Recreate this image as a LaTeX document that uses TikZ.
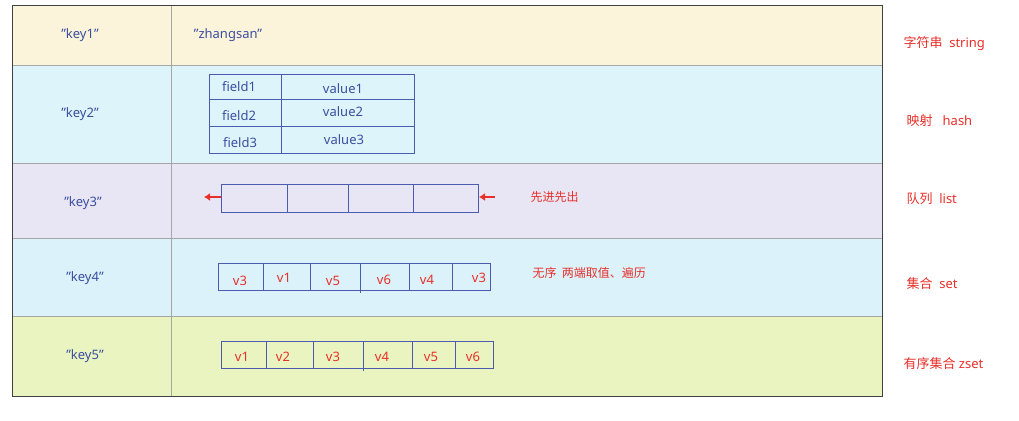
\documentclass[tikz,border=0pt]{standalone}
\usepackage{fontspec}
\setmainfont{Noto Sans}
\newfontfamily\cjk{Noto Sans CJK SC}
\usetikzlibrary{arrows.meta}
\begin{document}
\begin{tikzpicture}[x=1pt,y=-1pt,
  key/.style={text=keyc,font=\fontsize{13}{15}\selectfont},
  red/.style={text=redc,font=\fontsize{13}{15}\selectfont},
  cell/.style={draw=cellc,line width=0.8pt}]
\definecolor{keyc}{HTML}{3C4FA0}
\definecolor{redc}{HTML}{E8302A}
\definecolor{cellc}{HTML}{4A5BB0}
\definecolor{r1}{HTML}{FBF3DA}
\definecolor{r2}{HTML}{DDF4FB}
\definecolor{r3}{HTML}{E8E6F4}
\definecolor{r4}{HTML}{DCF2FB}
\definecolor{r5}{HTML}{EAF4C0}
\useasboundingbox (0,0) rectangle (1019,420);
\fill[white] (0,0) rectangle (1019,420);
\fill[r1] (12,5) rectangle (882,65);
\fill[r2] (12,65) rectangle (882,163);
\fill[r3] (12,163) rectangle (882,238);
\fill[r4] (12,238) rectangle (882,316);
\fill[r5] (12,316) rectangle (882,396);
\draw[gray!70,line width=0.8pt] (12,65)--(882,65) (12,163)--(882,163) (12,238)--(882,238) (12,316)--(882,316) (171,5)--(171,396);
\draw[black!75,line width=0.9pt] (12,5) rectangle (882,396);
% keys
\node[key] (k1) at (80,35) {"key1"};
\node[key] (k2) at (80,114) {"key2"};
\node[key] (k3) at (83,203) {"key3"};
\node[key] (k4) at (85,278) {"key4"};
\node[key] (k5) at (85,356) {"key5"};
\node[key] (v1) at (228,35) {"zhangsan"};
% hash
\draw[cell] (209,74) rectangle (414,153) (281,74)--(281,153) (209,99)--(414,99) (209,126)--(414,126);
\node[key] (f1) at (239,87) {field1};
\node[key] (f2) at (239,116) {field2};
\node[key] (f3) at (240,143) {field3};
\node[key] (h1) at (343,89) {value1};
\node[key] (h2) at (343,112) {value2};
\node[key] (h3) at (344,140) {value3};
% list
\draw[cell] (221,184) rectangle (478,212) (287,184)--(287,212) (348,184)--(348,212) (413,184)--(413,212);
\coordinate (la) at (221,197); \coordinate (lb) at (204,197);
\coordinate (ra) at (495,197); \coordinate (rb) at (479,197);
\draw[redc,line width=2.5pt,-{Latex[length=6pt,width=8pt]}] (la)--(lb);
\draw[redc,line width=2.5pt,-{Latex[length=6pt,width=8pt]}] (ra)--(rb);
\node[red,anchor=west,font=\cjk\fontsize{12}{14}\selectfont] (t3) at (527,197) {先进先出};
% set
\draw[cell] (218,263) rectangle (490,290) (263,263)--(263,290) (310,263)--(310,290) (360,263)--(360,293) (409,263)--(409,290) (452,263)--(452,290);
\node[red] (s1) at (240,281) {v3};
\node[red] (s2) at (284,278) {v1};
\node[red] (s3) at (333,281) {v5};
\node[red] (s4) at (384,280) {v6};
\node[red] (s5) at (427,280) {v4};
\node[red] (s6) at (479,278) {v3};
\node[red,anchor=west,font=\cjk\fontsize{12}{14}\selectfont] (t4) at (529,273) {无序\ \ 两端取值、遍历};
% zset
\draw[cell] (221,341) rectangle (493,368) (266,341)--(266,368) (313,341)--(313,368) (363,341)--(363,371) (412,341)--(412,368) (455,341)--(455,368);
\node[red] (z1) at (242,357) {v1};
\node[red] (z2) at (283,357) {v2};
\node[red] (z3) at (333,357) {v3};
\node[red] (z4) at (382,357) {v4};
\node[red] (z5) at (431,357) {v5};
\node[red] (z6) at (473,357) {v6};
% right labels
\node[red,anchor=west] (l1) at (900,44) {{\cjk 字符串}\ \ string};
\node[red,anchor=west] (l2) at (903,121) {{\cjk 映射}\ \ \ hash};
\node[red,anchor=west] (l3) at (903,199) {{\cjk 队列}\ \ list};
\node[red,anchor=west] (l4) at (903,284) {{\cjk 集合}\ \ set};
\node[red,anchor=west] (l5) at (900,364) {{\cjk 有序集合} zset};
\end{tikzpicture}
\end{document}
